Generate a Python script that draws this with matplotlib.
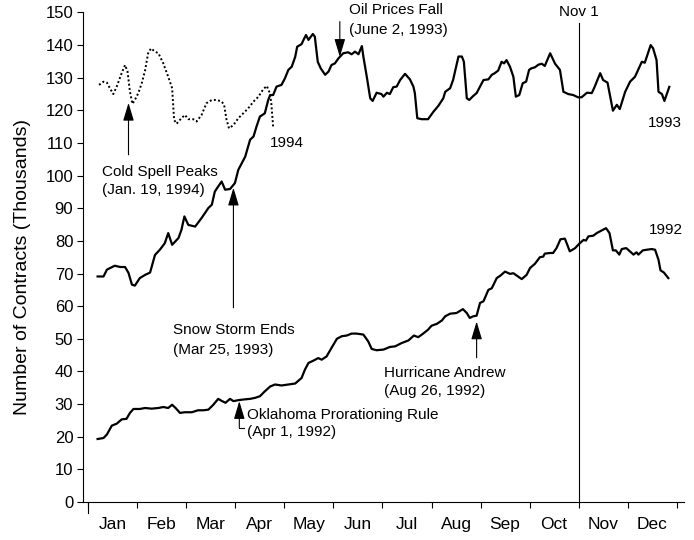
import matplotlib
matplotlib.use("Agg")
import matplotlib.pyplot as plt

plt.rcParams["font.family"] = ["Liberation Sans", "DejaVu Sans"]

# x in months since Jan 1 (fractional), values in thousands of contracts
X1993 = [0.19, 0.31, 0.38, 0.54, 0.65, 0.75, 0.82, 0.89, 0.95, 1.05, 1.16, 1.26, 1.36, 1.46, 1.56,
         1.63, 1.71, 1.84, 1.90, 1.96, 2.04, 2.18, 2.31, 2.45, 2.52, 2.58, 2.65, 2.72, 2.79, 2.89,
         2.99, 3.06, 3.20, 3.30, 3.37, 3.43, 3.50, 3.60, 3.67, 3.71, 3.77, 3.84, 3.94, 4.01, 4.08,
         4.15, 4.22, 4.26, 4.35, 4.39, 4.44, 4.49, 4.58, 4.62, 4.68, 4.74, 4.83, 4.90, 4.96, 5.03,
         5.10, 5.20, 5.30, 5.37, 5.44, 5.51, 5.58, 5.61, 5.68, 5.75, 5.80, 5.88, 5.98, 6.02, 6.09,
         6.15, 6.22, 6.29, 6.36, 6.46, 6.56, 6.63, 6.66, 6.71, 6.80, 6.93, 7.04, 7.14, 7.24, 7.28,
         7.38, 7.44, 7.51, 7.55, 7.62, 7.66, 7.72, 7.77, 7.85, 7.92, 7.99, 8.06, 8.16, 8.23, 8.29,
         8.36, 8.43, 8.48, 8.53, 8.60, 8.67, 8.72, 8.79, 8.86, 8.93, 8.99, 9.04, 9.11, 9.18, 9.25,
         9.31, 9.42, 9.52, 9.62, 9.69, 9.79, 9.89, 9.99, 10.06, 10.17, 10.27, 10.33, 10.44, 10.50,
         10.59, 10.70, 10.78, 10.84, 10.95, 11.05, 11.15, 11.29, 11.35, 11.47, 11.52, 11.59, 11.63,
         11.70, 11.75, 11.85]
Y1993 = [69.1, 69.1, 71.2, 72.4, 72.0, 72.0, 70.2, 66.6, 66.3, 68.6, 69.6, 70.3, 75.7, 77.3, 79.3,
         82.4, 78.8, 80.9, 83.4, 87.5, 84.9, 84.4, 87.0, 90.1, 91.1, 95.1, 96.7, 98.2, 95.7, 95.9,
         97.7, 101.8, 105.8, 111.0, 112.0, 115.0, 118.1, 119.1, 123.2, 124.7, 124.7, 127.3, 127.8, 129.8, 132.4,
         133.4, 136.4, 139.5, 140.3, 141.6, 143.1, 141.6, 143.4, 142.6, 134.9, 132.9, 130.9, 131.9, 133.9, 134.4,
         135.9, 137.5, 137.8, 137.2, 138.0, 137.2, 139.7, 136.5, 130.3, 123.7, 122.9, 125.4, 125.0, 124.2, 125.4,
         125.0, 127.1, 127.3, 129.3, 131.2, 129.5, 127.3, 125.3, 117.6, 117.3, 117.3, 119.6, 121.4, 123.7, 125.7,
         126.8, 129.3, 133.9, 136.5, 136.5, 134.9, 123.7, 123.2, 124.4, 125.3, 127.3, 129.3, 129.5, 130.9, 131.4,
         132.2, 134.9, 134.4, 135.4, 133.4, 130.3, 124.2, 124.7, 128.3, 128.8, 132.4, 132.9, 133.2, 134.0, 134.3,
         133.6, 137.5, 134.3, 132.4, 125.7, 125.0, 124.7, 124.0, 124.0, 125.4, 125.3, 127.3, 131.4, 129.3,
         128.5, 119.9, 121.7, 120.4, 125.7, 128.8, 130.3, 134.9, 134.6, 140.0, 139.0, 135.4, 125.7,
         125.0, 122.9, 127.2]

X1994 = [0.22, 0.31, 0.38, 0.44, 0.51, 0.58, 0.68, 0.75, 0.80, 0.85, 0.90, 0.95, 1.02, 1.09, 1.16,
         1.22, 1.28, 1.36, 1.43, 1.53, 1.63, 1.71, 1.75, 1.80, 1.90, 1.97, 2.04, 2.14, 2.21, 2.31,
         2.41, 2.52, 2.62, 2.72, 2.77, 2.82, 2.87, 2.96, 3.06, 3.16, 3.26, 3.37, 3.47, 3.57, 3.64,
         3.69, 3.73, 3.77]
Y1994 = [127.8, 128.8, 128.5, 126.8, 125.0, 127.3, 131.4, 133.9, 131.9, 125.7, 122.0, 123.2, 125.3, 128.3, 132.4,
         137.5, 139.0, 138.0, 137.5, 134.4, 130.3, 126.8, 117.1, 115.9, 117.6, 118.6, 117.3, 117.3, 116.6, 118.6,
         122.2, 123.2, 123.2, 122.7, 121.7, 117.1, 114.5, 115.5, 117.6, 119.1, 120.6, 122.7, 124.2, 126.5, 127.5,
         125.7, 122.7, 115.0]

X1992 = [0.19, 0.31, 0.38, 0.48, 0.58, 0.68, 0.78, 0.85, 0.92, 1.05, 1.16, 1.29, 1.43, 1.53, 1.63,
         1.71, 1.78, 1.87, 1.97, 2.11, 2.24, 2.35, 2.45, 2.55, 2.65, 2.73, 2.80, 2.89, 2.96, 3.06,
         3.16, 3.30, 3.40, 3.50, 3.60, 3.71, 3.81, 3.94, 4.08, 4.22, 4.35, 4.42, 4.49, 4.59, 4.69,
         4.76, 4.86, 4.96, 5.07, 5.17, 5.27, 5.37, 5.47, 5.61, 5.71, 5.78, 5.88, 6.02, 6.15, 6.26,
         6.39, 6.53, 6.64, 6.73, 6.83, 6.93, 7.00, 7.11, 7.21, 7.28, 7.38, 7.51, 7.64, 7.72, 7.78,
         7.85, 7.92, 7.99, 8.06, 8.16, 8.23, 8.33, 8.40, 8.50, 8.60, 8.67, 8.84, 8.94, 9.01, 9.11,
         9.21, 9.28, 9.31, 9.42, 9.48, 9.55, 9.63, 9.72, 9.77, 9.82, 9.93, 10.01, 10.10, 10.15, 10.20,
         10.30, 10.37, 10.47, 10.56, 10.63, 10.70, 10.76, 10.83, 10.88, 10.97, 11.01, 11.12, 11.18, 11.22,
         11.31, 11.39, 11.49, 11.56, 11.63, 11.67, 11.74, 11.83]
Y1992 = [19.3, 19.6, 20.7, 23.4, 24.0, 25.3, 25.5, 27.3, 28.5, 28.5, 28.8, 28.6, 28.8, 29.1, 28.8,
         29.8, 28.8, 27.3, 27.5, 27.5, 28.1, 28.1, 28.3, 29.8, 31.6, 30.9, 30.4, 31.6, 30.9, 31.2,
         31.4, 31.6, 31.9, 32.4, 33.9, 35.4, 36.0, 35.7, 36.0, 36.3, 38.0, 40.6, 42.6, 43.3, 44.1,
         43.6, 44.6, 47.2, 50.0, 50.8, 51.0, 51.6, 51.6, 51.3, 49.2, 46.9, 46.5, 46.7, 47.5, 47.7,
         48.7, 49.5, 51.0, 50.5, 51.6, 52.8, 54.0, 54.6, 55.6, 56.9, 57.7, 57.9, 59.1, 57.9, 56.4,
         56.9, 57.1, 61.0, 61.5, 65.0, 65.5, 68.6, 69.3, 70.6, 69.9, 70.1, 68.3, 69.6, 71.7, 73.0,
         75.0, 75.2, 76.1, 76.3, 76.3, 77.8, 80.5, 80.7, 78.8, 76.8, 77.8, 79.1, 80.3, 80.1, 81.4,
         81.6, 82.4, 83.2, 83.9, 82.4, 77.1, 77.1, 75.8, 77.5, 77.8, 77.3, 75.8, 76.5, 75.8,
         77.1, 77.3, 77.5, 77.3, 74.2, 71.0, 70.3, 68.6]

MONTHS = ["Jan", "Feb", "Mar", "Apr", "May", "Jun", "Jul", "Aug", "Sep", "Oct", "Nov", "Dec"]
NOV1 = 10.0

# (text lines, text x, line y's, arrow x, arrow tip y, arrow tail y)
EVENTS = [
    (["Cold Spell Peaks", "(Jan. 19, 1994)"], 0.27, [101.2, 95.7], 0.82, 122.3, 106.4),
    (["Snow Storm Ends", "(Mar 25, 1993)"], 1.72, [52.8, 46.5], 2.96, 96.3, 59.5),
    (["Hurricane Andrew", "(Aug 26, 1992)"], 6.03, [39.6, 33.9], 7.92, 55.3, 44.2),
    (["Oil Prices Fall", "(June 2, 1993)"], 5.32, [150.9, 144.6], 5.13, 136.4, 147.2),
    (["Oklahoma Prorationing Rule", "(Apr 1, 1992)"], 3.23, [26.8, 21.3], 3.08, 30.9, 22.8),
]

fig = plt.figure(figsize=(6.94, 5.40), dpi=100)
ax = fig.add_axes([0.1196, 0.0704, 0.866, 0.9065])

ax.plot(X1993, Y1993, color="black", lw=1.6, solid_joinstyle="round")
ax.plot(X1992, Y1992, color="black", lw=1.6, solid_joinstyle="round")
ax.plot(X1994, Y1994, color="black", lw=1.4, ls=(0, (1, 1.2)))

ax.set_xlim(-0.108, 12.15)
ax.set_ylim(0, 150)

ax.axvline(NOV1, ymin=0, ymax=146.8 / 150, color="black", lw=0.8)
ax.text(NOV1, 150.0, "Nov 1", ha="center", va="center", fontsize=11)

for lines, tx, tys, axx, tip, tail in EVENTS:
    for s, ty in zip(lines, tys):
        ax.text(tx, ty, s, ha="left", va="center", fontsize=11, clip_on=False)
    ax.annotate("", xy=(axx, tip), xytext=(axx, tail), annotation_clip=False,
                arrowprops=dict(arrowstyle="-|>,head_length=1.1,head_width=0.33", color="black",
                                lw=0.8, mutation_scale=10, shrinkA=0, shrinkB=0))
    if tx - axx < 0.15 and tx > axx:
        # small bracket joining the arrow to its label
        ax.plot([axx, axx + 0.1], [tail, tail], color="black", lw=0.8, clip_on=False)

ax.text(3.70, 110.0, "1994", ha="left", va="center", fontsize=11)
ax.text(11.42, 116.2, "1993", ha="left", va="center", fontsize=11)
ax.text(11.44, 83.4, "1992", ha="left", va="center", fontsize=11)

ax.set_yticks(range(0, 151, 10))
ax.set_xticks(range(0, 13))
ax.set_xticklabels([])
ax.set_xticks([m + 0.5 for m in range(12)], minor=True)
ax.set_xticklabels(MONTHS, minor=True)
ax.tick_params(axis="x", which="major", length=4, width=0.8, direction="out")
ax.tick_params(axis="x", which="minor", length=0, pad=11, labelsize=12.5)
ax.tick_params(axis="y", length=4, width=0.8, labelsize=12, pad=3)
ax.axvline(0, ymin=-0.022, ymax=0, color="black", lw=0.8, clip_on=False)

ax.set_ylabel("Number of Contracts (Thousands)", fontsize=14)
ax.yaxis.set_label_coords(-0.086, 0.48)
ax.spines[["top", "right"]].set_visible(False)
for sp in ("left", "bottom"):
    ax.spines[sp].set_linewidth(0.8)

fig.savefig("out.png", dpi=100)
